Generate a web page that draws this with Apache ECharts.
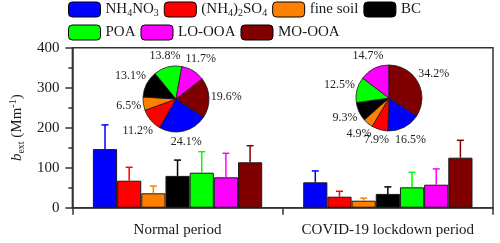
<!DOCTYPE html>
<html>
<head>
<meta charset="utf-8">
<script src="https://cdn.jsdelivr.net/npm/echarts@6/dist/echarts.min.js"></script>
<style>html,body{margin:0;padding:0;background:#fff}#c{width:500px;height:243px}</style>
</head>
<body>
<div id="c"></div>
<script>
const categories = ['Normal period', 'COVID-19 lockdown period'];
const components = ['NH4NO3', '(NH4)2SO4', 'fine soil', 'BC', 'POA', 'LO-OOA', 'MO-OOA'];
const colors = ['#0000FF', '#FF0000', '#FF8000', '#000000', '#00FF00', '#FF00FF', '#800000'];
const normalMean = [146.5, 67.5, 36, 79.5, 87.5, 76, 113.5];
const normalErr  = [60.5, 33.5, 18, 39.5, 52.5, 60, 41.5];
const covidMean  = [63.5, 27.5, 17.5, 34.5, 51, 57.5, 125];
const covidErr   = [28.5, 13.5, 6.5, 17.5, 37.5, 39.5, 43.5];
const normalPct  = [24.1, 11.2, 6.5, 13.1, 13.8, 11.7, 19.6];
const covidPct   = [16.5, 7.9, 4.9, 9.3, 12.5, 14.7, 34.2];
const yTicks = [0, 100, 200, 300, 400];

const FONT = "'Liberation Serif', 'Times New Roman', serif";
const TXT = '#1a1a1a';
const AX = '#333';
const catGap = 0.195;
const nComp = components.length;

const legendLabels = {
  'NH4NO3': '{n|NH}{s|4}{n|NO}{s|3}',
  '(NH4)2SO4': '{n|(NH}{s|4}{n|)}{s|2}{n|SO}{s|4}'
};
const legendRich = {
  n: {fontSize: 15, fontFamily: FONT, color: TXT, lineHeight: 18},
  s: {fontSize: 10, fontFamily: FONT, color: TXT, lineHeight: 12, verticalAlign: 'bottom'}
};

const chart = echarts.init(document.getElementById('c'), null, {renderer: 'canvas'});
const series = [];
components.forEach((name, i) => {
  series.push({
    type: 'bar', name: name,
    data: [normalMean[i], covidMean[i]],
    barGap: '0%', barCategoryGap: (catGap * 100) + '%',
    itemStyle: {color: colors[i], borderColor: '#1a1a1a', borderWidth: 1},
    emphasis: {disabled: true}, z: 2
  });
});
components.forEach((name, i) => {
  series.push({
    type: 'custom', name: name,
    data: [[0, normalMean[i], normalMean[i] + normalErr[i]], [1, covidMean[i], covidMean[i] + covidErr[i]]],
    z: 3, silent: true,
    renderItem: function (params, api) {
      const j = api.value(0);
      const catW = api.size([1, 0])[0];
      const bw = catW * (1 - catGap) / nComp;
      const base = api.coord([j, api.value(1)]);
      const top = api.coord([j, api.value(2)]);
      const x = base[0] + (i - (nComp - 1) / 2) * bw;
      const st = {stroke: colors[i], lineWidth: 1.5};
      return {type: 'group', children: [
        {type: 'line', shape: {x1: x, y1: base[1], x2: x, y2: top[1]}, style: st},
        {type: 'line', shape: {x1: x - 3.5, y1: top[1], x2: x + 3.5, y2: top[1]}, style: st}
      ]};
    }
  });
});

const R = 33;
const startAngle = -33;
function makePie(pct, center) {
  const total = pct.reduce((a, b) => a + b, 0);
  return {
    type: 'pie', radius: R, center: center, startAngle: startAngle, clockwise: true,
    z: 5, silent: true, avoidLabelOverlap: false,
    data: pct.map((v, k) => ({name: components[k], value: v, itemStyle: {color: colors[k]}})),
    itemStyle: {borderColor: '#1a1a1a', borderWidth: 0.8},
    label: {show: true, position: 'outside', formatter: (p) => p.value.toFixed(1) + '%',
      fontFamily: FONT, fontSize: 12, color: '#222'},
    labelLine: {show: false, length: 2, length2: 0},
    labelLayout: function (params) {
      let cum = 0;
      for (let k = 0; k < params.dataIndex; k++) cum += pct[k];
      cum += pct[params.dataIndex] / 2;
      const th = ((90 - startAngle) + cum / total * 360) * Math.PI / 180;
      const sx = Math.sin(th), sy = -Math.cos(th);
      const w = params.labelRect.width / 2, h = params.labelRect.height / 2;
      const d = R + 1.5 + Math.abs(sx) * w + Math.abs(sy) * h;
      return {x: center[0] + d * sx, y: center[1] + d * sy, align: 'center', verticalAlign: 'middle'};
    }
  };
}
series.push(makePie(normalPct, [176, 99]));
series.push(makePie(covidPct, [389, 98]));

function legendCfg(names, top) {
  return {
    data: names, top: top, left: 68, orient: 'horizontal', padding: 0,
    itemWidth: 32, itemHeight: 15, itemGap: 5, selectedMode: false,
    itemStyle: {borderColor: '#000', borderWidth: 1},
    formatter: (n) => legendLabels[n] || ('{n|' + n + '}'),
    textStyle: {fontFamily: FONT, fontSize: 15, color: TXT, rich: legendRich, padding: [0, 0, 0, 0]}
  };
}

chart.setOption({
  animation: false,
  backgroundColor: '#fff',
  textStyle: {fontFamily: FONT},
  grid: {left: 68, right: 7, top: 47.7, bottom: 35.3, show: true, borderColor: AX, borderWidth: 1.5, backgroundColor: 'transparent'},
  legend: [legendCfg(components.slice(0, 4), 1.5), legendCfg(components.slice(4), 24.5)],
  xAxis: {
    type: 'category', data: categories, boundaryGap: true,
    axisLine: {lineStyle: {color: AX, width: 1.5}},
    axisTick: {show: true, length: 7, inside: false, lineStyle: {color: AX, width: 1.5}},
    axisLabel: {fontFamily: FONT, fontSize: 15, color: TXT, margin: 15, interval: 0}
  },
  yAxis: {
    type: 'value', min: yTicks[0], max: yTicks[yTicks.length - 1], interval: 100,
    name: '{b|b}{sub|ext}{n| (Mm}{sup|-1}{n|)}', nameLocation: 'middle', nameGap: 45, nameRotate: 90,
    nameTextStyle: {fontFamily: FONT, fontSize: 15, color: TXT, rich: {
      b: {fontFamily: FONT, fontSize: 15, fontStyle: 'italic', color: TXT, lineHeight: 18},
      n: {fontFamily: FONT, fontSize: 15, color: TXT, lineHeight: 18},
      sub: {fontFamily: FONT, fontSize: 10, color: TXT, lineHeight: 12, verticalAlign: 'bottom'},
      sup: {fontFamily: FONT, fontSize: 10, color: TXT, lineHeight: 12, verticalAlign: 'top'}
    }},
    axisLine: {show: true, lineStyle: {color: AX, width: 1.5}},
    axisTick: {show: true, length: 7, inside: false, lineStyle: {color: AX, width: 1.5}},
    minorTick: {show: true, splitNumber: 2, length: 4, lineStyle: {color: AX, width: 1.5}},
    splitLine: {show: false},
    axisLabel: {fontFamily: FONT, fontSize: 15, color: TXT, margin: 13}
  },
  series: series
});
</script>
</body>
</html>
